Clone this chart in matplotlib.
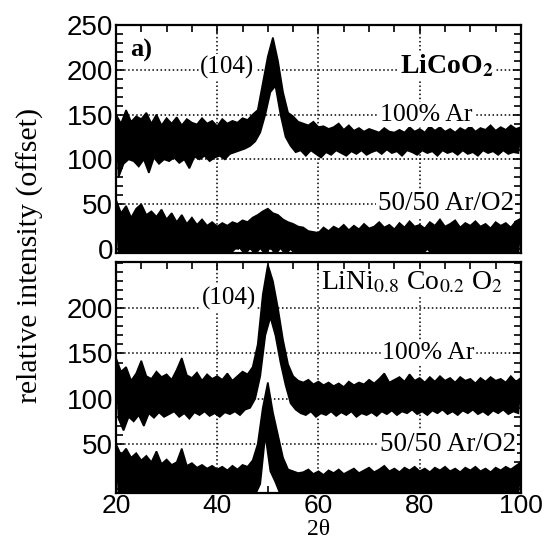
import numpy as np
import matplotlib
matplotlib.use('Agg')
import matplotlib.pyplot as plt
from matplotlib.ticker import MultipleLocator

plt.rcParams['font.family'] = 'Liberation Serif'
plt.rcParams['mathtext.fontset'] = 'stix'

# 2-theta axis, 0.5 degree steps from 20 to 100
# (noise read as alternating high / low samples)
two_theta = np.arange(20, 100.01, 0.5)

# LiCoO2, 100% Ar (offset)
licoo2_ar = [
    150, 80, 140, 95, 155, 100, 142, 98, 148, 92, 145, 100, 152, 85, 140, 102, 150, 95, 138, 100, 146,
    98, 140, 102, 147, 96, 138, 100, 145, 90, 141, 103, 139, 100, 146, 104, 140, 98, 143, 102, 137,
    104, 145, 100, 140, 106, 143, 108, 141, 110, 146, 112, 144, 115, 150,
    120, 155, 130, 185, 150, 215, 175, 236, 182, 210, 150, 175, 125, 152, 115, 148, 108, 142,
    110, 140, 104, 138, 110, 142, 106, 136, 102, 137, 108, 134, 105, 136, 110, 140, 107, 133, 104, 138,
    109, 132, 106, 135, 110, 131, 105, 134,
    108, 132, 110, 130, 106, 135, 111, 131, 107, 130, 109, 133, 104, 130, 110, 136, 108, 131, 105, 134,
    110, 130, 107, 137, 109, 132, 104, 136, 110, 131,
    107, 134, 109, 130, 105, 135, 110, 132, 106, 137, 108, 131, 104, 135, 110, 133, 107, 138, 109, 132,
    105, 136, 110, 133, 106, 138, 108, 134, 107, 136,
]

# LiCoO2, 50/50 Ar/O2
licoo2_o2 = [
    55, -6, 40, -6, 48, -6, 35, -6, 45, -6, 50, -6, 38, -6, 42, -6, 36, -6, 44, -6, 33,
    -6, 40, -6, 30, -6, 38, -6, 28, -6, 35, -6, 27, -6, 33, -6, 26, -6, 30, -6, 25,
    -6, 29, -6, 26, -6, 30, 0, 28, 1, 32, -6, 30, 1, 35,
    -6, 38, 1, 42, -6, 45, 2, 40, -6, 38, 1, 33, -6, 30, 0, 28, -6, 25,
    -6, 24, -6, 20, -6, 19, -6, 18, -6, 24, -6, 20, -6, 25, -6, 22, -6, 27, -6, 21,
    -6, 26, -6, 22, -6, 28, -6, 23,
    -6, 25, -6, 30, -6, 24, -6, 27, -6, 22, -6, 29, -6, 24, -6, 31, -6, 25, -6, 27,
    -6, 23, 0, 30, -6, 26, -6, 33, -6, 25,
    -6, 28, -6, 32, -6, 24, -6, 29, -6, 26, -6, 31, -6, 25, -6, 28, -6, 23, -6, 30,
    -6, 26, -6, 29, -6, 24, -6, 31, -6, 34,
]

# LiNi0.8Co0.2O2, 100% Ar (offset)
lini_ar = [
    145, 78, 130, 65, 135, 80, 120, 75, 128, 82, 142, 70, 125, 84, 122, 79, 130, 85, 124, 80, 127,
    83, 121, 86, 132, 80, 145, 84, 126, 78, 123, 85, 129, 82, 120, 86, 127, 81, 122, 84, 125,
    80, 121, 85, 128, 83, 120, 86, 125, 82, 130, 88, 127, 90, 135,
    100, 160, 125, 215, 170, 248, 190, 230, 170, 200, 140, 165, 115, 138, 95, 125, 88, 120,
    84, 118, 82, 121, 86, 116, 80, 119, 84, 115, 82, 118, 86, 114, 81, 117, 85, 113, 82, 119,
    86, 115, 80, 118, 84, 116, 82, 121,
    85, 117, 81, 122, 86, 128, 83, 118, 87, 121, 82, 124, 86, 119, 84, 127, 88, 120, 83, 123,
    86, 118, 82, 124, 87, 119, 84, 125, 88, 120,
    83, 123, 86, 118, 82, 124, 87, 120, 84, 122, 88, 117, 83, 123, 86, 119, 82, 124, 87, 120,
    84, 122, 88, 118, 83, 125, 86, 119, 84, 123,
]

# LiNi0.8Co0.2O2, 50/50 Ar/O2
lini_o2 = [
    50, -6, 38, -6, 45, -6, 35, -6, 40, -6, 32, -6, 37, -6, 30, -6, 42, -6, 28, -6, 33,
    -6, 27, -6, 30, -6, 45, -6, 26, -6, 29, -6, 24, -6, 27, -6, 23, -6, 26, -6, 22,
    -6, 25, -6, 21, -6, 26, -6, 22, -6, 27, -6, 25, -6, 32,
    -6, 50, 6, 90, 60, 118, 20, 85, 8, 60, -6, 35, -6, 22, -6, 20, -6, 18,
    -6, 19, -6, 22, -6, 17, -6, 20, -6, 16, -6, 21, -6, 18, -6, 22, -6, 17, -6, 20,
    -6, 23, -6, 18, -6, 21, -6, 24,
    -6, 19, -6, 22, -6, 26, -6, 20, -6, 23, -6, 19, -6, 24, -6, 21, -6, 25, -6, 20,
    -6, 23, -6, 19, -6, 24, -6, 21, -6, 25,
    -6, 20, -6, 23, -6, 19, -6, 24, -6, 21, -6, 25, -6, 20, -6, 23, -6, 19, -6, 24,
    -6, 21, -6, 25, -6, 22, -6, 26, -6, 30,
]

fig = plt.figure(figsize=(5.45, 5.42), dpi=100)
ax1 = fig.add_axes([0.2128, 0.5332, 0.7431, 0.4207])
ax2 = fig.add_axes([0.2128, 0.0904, 0.7431, 0.4262])

box = dict(facecolor='white', edgecolor='none', pad=1)


def band(ax, y):
    # high samples along the top, low samples back along the bottom
    y = np.asarray(y, dtype=float)
    xs = np.concatenate([two_theta[0::2], two_theta[1::2][::-1]])
    ys = np.concatenate([y[0::2], y[1::2][::-1]])
    ax.fill(xs, ys, facecolor='black', edgecolor='black', lw=1.2, zorder=3)


def style(ax):
    ax.set_xlim(20, 100)
    ax.xaxis.set_major_locator(MultipleLocator(20))
    ax.xaxis.set_minor_locator(MultipleLocator(5))
    ax.yaxis.set_major_locator(MultipleLocator(50))
    ax.yaxis.set_minor_locator(MultipleLocator(10))
    ax.tick_params(which='both', direction='in', top=True, right=True, width=1.2)
    ax.tick_params(which='major', length=6)
    ax.tick_params(which='minor', length=5)
    ax.tick_params(axis='y', labelsize=20, pad=2)
    ax.tick_params(axis='x', labelsize=19, pad=1)
    for s in ax.spines.values():
        s.set_linewidth(1.6)
        s.set_zorder(5)
    ax.grid(True, which='major', linestyle=':', color='black', linewidth=1.1, zorder=0)
    ax.set_axisbelow(True)


# top panel
band(ax1, licoo2_ar)
band(ax1, licoo2_o2)
ax1.set_ylim(-4.5, 248)
style(ax1)
ax1.set_yticks([0, 50, 100, 150, 200, 250])
ax1.tick_params(axis='x', labelbottom=False)
for lab in ax1.get_yticklabels():
    lab.set_family('Liberation Sans')
ax1.text(22.8, 222, 'a)', fontsize=19, fontweight='bold', va='center', ha='left', zorder=4)
ax1.text(42, 203, '(104)', fontsize=18, va='center', ha='center', bbox=box, zorder=4)
ax1.text(94.5, 204, r'LiCoO$_\mathbf{2}$', fontsize=20, fontweight='bold', va='center', ha='right',
         bbox=box, zorder=4)
ax1.text(81.3, 150, '100% Ar', fontsize=18.5, va='center', ha='center', bbox=box, zorder=4)
ax1.text(98.6, 51, '50/50 Ar/O2', fontsize=19.5, va='center', ha='right', bbox=box, zorder=4)

# bottom panel
band(ax2, lini_ar)
band(ax2, lini_o2)
ax2.set_ylim(-4, 251)
style(ax2)
ax2.set_yticks([50, 100, 150, 200])
ax2.set_xticks([20, 40, 60, 80, 100])
for lab in ax2.get_xticklabels() + ax2.get_yticklabels():
    lab.set_family('Liberation Sans')
ax2.text(42.3, 211, '(104)', fontsize=18, va='center', ha='center', bbox=box, zorder=4)
ax2.text(96.5, 228, r'LiNi$_{0.8}$ Co$_{0.2}$ O$_2$', fontsize=20, va='center', ha='right',
         bbox=box, zorder=4)
ax2.text(81.7, 151, '100% Ar', fontsize=18.5, va='center', ha='center', bbox=box, zorder=4)
ax2.text(99, 50, '50/50 Ar/O2', fontsize=19.5, va='center', ha='right', bbox=box, zorder=4)

fig.text(0.585, 0.004, '2θ', fontsize=17, va='bottom', ha='center')
fig.text(0.055, 0.529, 'relative intensity (offset)', rotation=90, fontsize=21.5,
         va='center', ha='center')

plt.savefig('out.png', dpi=100)
